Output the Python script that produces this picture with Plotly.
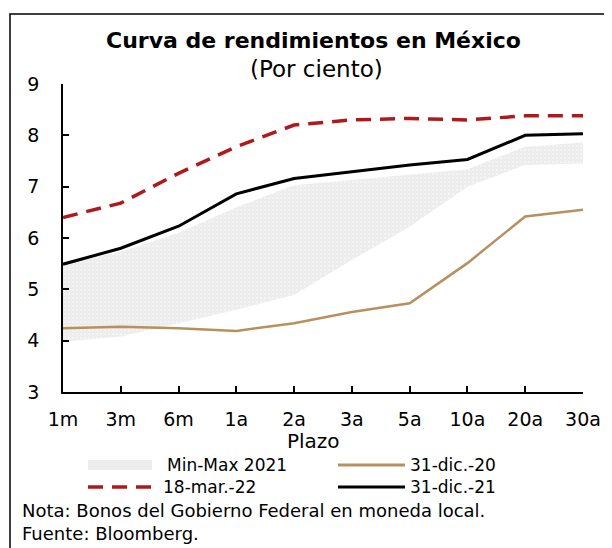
import plotly.graph_objects as go

# plazos (eje x)
plazos = ["1m", "3m", "6m", "1a", "2a", "3a", "5a", "10a", "20a", "30a"]

# curvas de rendimiento (por ciento)
min_2021 = [3.98, 4.08, 4.34, 4.60, 4.89, 5.57, 6.22, 7.00, 7.42, 7.45]
max_2021 = [5.50, 5.73, 6.10, 6.60, 7.03, 7.13, 7.23, 7.34, 7.78, 7.86]
dic_20 = [4.24, 4.27, 4.24, 4.19, 4.34, 4.56, 4.73, 5.51, 6.42, 6.55]
mar_22 = [6.40, 6.68, 7.26, 7.78, 8.20, 8.30, 8.33, 8.30, 8.38, 8.38]
dic_21 = [5.49, 5.80, 6.23, 6.86, 7.16, 7.29, 7.42, 7.53, 8.00, 8.03]

FONT = "DejaVu Sans"
ROJO = "#b0181c"
CAFE = "#b8905e"
GRIS = "#ededed"

x = list(range(len(plazos)))

fig = go.Figure()

# banda min-max 2021
fig.add_trace(go.Scatter(x=x, y=min_2021, mode="lines", line=dict(width=0),
                         showlegend=False, hoverinfo="skip"))
fig.add_trace(go.Scatter(x=x, y=max_2021, mode="lines", line=dict(width=0),
                         fill="tonexty", fillcolor=GRIS,
                         fillpattern=dict(shape=".", fgcolor="white", bgcolor=GRIS,
                                          size=4, solidity=0.2),
                         name="Min-Max 2021", showlegend=False))

fig.add_trace(go.Scatter(x=x, y=dic_20, mode="lines", line=dict(color=CAFE, width=2.5),
                         name="31-dic.-20", showlegend=False))
fig.add_trace(go.Scatter(x=x, y=mar_22, mode="lines",
                         line=dict(color=ROJO, width=3.5, dash="15px,9px"),
                         name="18-mar.-22", showlegend=False))
fig.add_trace(go.Scatter(x=x, y=dic_21, mode="lines", line=dict(color="black", width=3),
                         name="31-dic.-21", showlegend=False))

# la pagina agrega 8px de margen, todo se mide en px de la imagen original
OFF = 8
FW, FH = 612 - OFF, 548 - OFF
L, R, T, B = 63 - OFF, 583 - OFF, 84 - OFF, 392 - OFF
W, H = R - L, B - T


def px(xp):
    return (xp - OFF - L) / W


def py(yp):
    return (B - (yp - OFF)) / H


shapes = [
    # marco
    dict(type="rect", xref="paper", yref="paper", x0=px(10), x1=px(640),
         y0=py(600), y1=py(14), line=dict(color="black", width=1.5)),
    # leyenda
    dict(type="rect", xref="paper", yref="paper", x0=px(88), x1=px(152),
         y0=py(470), y1=py(460), line=dict(width=0), fillcolor=GRIS),
    dict(type="line", xref="paper", yref="paper", x0=px(338), x1=px(405),
         y0=py(465), y1=py(465), line=dict(color=CAFE, width=3)),
    dict(type="line", xref="paper", yref="paper", x0=px(88), x1=px(160),
         y0=py(487), y1=py(487), line=dict(color=ROJO, width=3.5, dash="15px,9px")),
    dict(type="line", xref="paper", yref="paper", x0=px(338), x1=px(405),
         y0=py(487), y1=py(487), line=dict(color="black", width=3)),
]


def txt(t, xp, yp, size=16, anchor="left", bold=False):
    return dict(text=f"<b>{t}</b>" if bold else t, xref="paper", yref="paper",
                x=px(xp), y=py(yp), xanchor=anchor, yanchor="middle",
                showarrow=False, font=dict(family=FONT, size=size, color="black"))


annotations = [
    txt("Curva de rendimientos en México", 313, 40, size=22, anchor="center", bold=True),
    txt("(Por ciento)", 316, 69, size=23, anchor="center"),
    txt("Plazo", 313, 441, size=20, anchor="center"),
    txt("Min-Max 2021", 165, 465, size=17),
    txt("31-dic.-20", 408, 465, size=17),
    txt("18-mar.-22", 161, 487, size=17),
    txt("31-dic.-21", 408, 487, size=17),
    txt("Nota: Bonos del Gobierno Federal en moneda local.", 20, 510, size=18),
    txt("Fuente: Bloomberg.", 20, 533, size=18),
]

fig.update_layout(
    width=FW, height=FH,
    margin=dict(l=L, r=FW - R, t=T, b=FH - B),
    paper_bgcolor="white", plot_bgcolor="white",
    font=dict(family=FONT, size=19, color="black"),
    shapes=shapes, annotations=annotations,
    showlegend=False,
)
fig.update_xaxes(range=[0, 9], tickvals=x, ticktext=plazos, showgrid=False, zeroline=False,
                 showline=True, linecolor="black", linewidth=1.5,
                 ticks="inside", ticklen=6, tickcolor="black", tickwidth=1.5,
                 tickfont=dict(size=19), ticklabelstandoff=9, fixedrange=True)
fig.update_yaxes(range=[3, 9], dtick=1, showgrid=False, zeroline=False,
                 showline=True, linecolor="black", linewidth=1.5,
                 ticks="inside", ticklen=6, tickcolor="black", tickwidth=1.5,
                 tickfont=dict(size=19), ticklabelstandoff=18, fixedrange=True)

fig.write_html("out.html")
